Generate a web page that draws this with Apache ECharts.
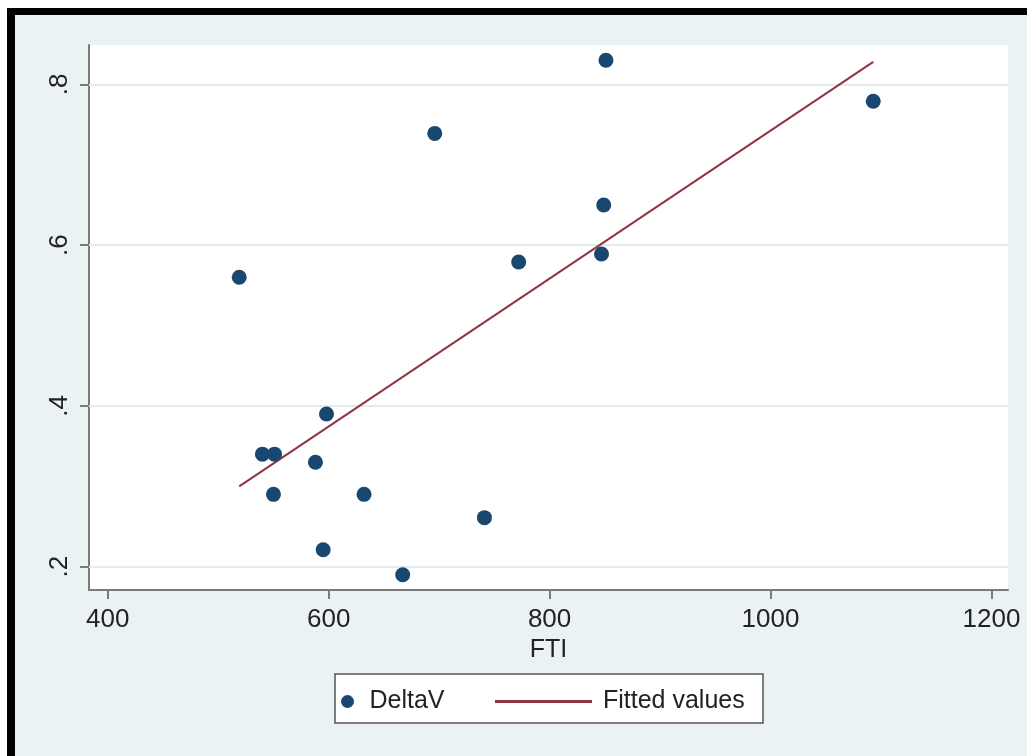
<!DOCTYPE html>
<html>
<head>
<meta charset="utf-8">
<title>DeltaV vs FTI</title>
<script src="https://cdn.jsdelivr.net/npm/echarts@6/dist/echarts.min.js"></script>
<style>
  html, body { margin: 0; padding: 0; background: #fff; }
  #frame {
    position: absolute; left: 7px; top: 8px; width: 1012px; height: 741px;
    border-left: 8px solid #000; border-top: 7px solid #000;
    background: #eaf2f3;
  }
  #chart { position: absolute; left: 0; top: 0; width: 1027px; height: 756px; }
</style>
</head>
<body>
<div id="frame"></div>
<div id="chart"></div>
<script>
// scatter points
const fti    = [851, 1093, 696, 849, 847, 772, 519, 598, 540, 551, 588, 550, 632, 741, 595, 667];
const deltaV = [0.830, 0.779, 0.739, 0.650, 0.589, 0.579, 0.560, 0.390, 0.340, 0.340, 0.330, 0.290, 0.290, 0.261, 0.221, 0.190];

// fitted line end points
const fitX = [519, 1093];
const fitY = [0.300, 0.828];

const xTicks = [400, 600, 800, 1000, 1200];
const yTicks = [0.2, 0.4, 0.6, 0.8];
const yTickLabels = ['.2', '.4', '.6', '.8'];

const font = 'Liberation Sans, Arial, sans-serif';
const textColor = '#222';
const axisColor = '#7a7a7a';

const chart = echarts.init(document.getElementById('chart'));

chart.setOption({
  backgroundColor: 'transparent',
  animation: false,
  textStyle: { fontFamily: font },
  grid: {
    left: 89, top: 45, right: 19, bottom: 166,
    show: true, backgroundColor: '#fff', borderWidth: 0
  },
  xAxis: {
    type: 'value', min: 383, max: 1215,
    name: 'FTI', nameLocation: 'middle', nameGap: 46,
    nameTextStyle: { fontSize: 25, color: textColor, fontFamily: font },
    axisLine: { show: true, onZero: false, lineStyle: { color: axisColor, width: 2 } },
    axisTick: { show: true, length: 9, customValues: xTicks, lineStyle: { color: axisColor, width: 2 } },
    axisLabel: {
      customValues: xTicks, fontSize: 26, color: textColor, margin: 17, fontFamily: font,
      formatter: v => String(v)
    },
    splitLine: { show: false }
  },
  yAxis: {
    type: 'value', min: 0.171, max: 0.849,
    axisLine: { show: true, onZero: false, lineStyle: { color: axisColor, width: 2 } },
    axisTick: { show: true, length: 9, customValues: yTicks, lineStyle: { color: axisColor, width: 2 } },
    axisLabel: {
      customValues: yTicks, rotate: 90, fontSize: 26, color: textColor, margin: 16, fontFamily: font,
      formatter: function (v) {
        const i = yTicks.findIndex(t => Math.abs(t - v) < 1e-6);
        return i >= 0 ? yTickLabels[i] : '';
      }
    },
    splitLine: { show: false }
  },
  graphic: [{
    type: 'rect', z: 0,
    shape: { x: 335, y: 674, width: 428, height: 49 },
    style: { fill: '#fff', stroke: '#555', lineWidth: 1.5 }
  }],
  legend: [{
    data: ['DeltaV'], left: 336, top: 684, z: 5,
    itemWidth: 34, itemHeight: 13,
    textStyle: { fontSize: 25, color: textColor, fontFamily: font }
  }, {
    data: [{ name: 'Fitted values', icon: 'rect' }], left: 490, top: 684, z: 5,
    itemWidth: 97, itemHeight: 3,
    textStyle: { fontSize: 25, color: textColor, fontFamily: font, padding: [0, 0, 0, 6] }
  }],
  series: [{
    name: 'Fitted values',
    type: 'line',
    data: fitX.map((x, i) => [x, fitY[i]]),
    showSymbol: false, symbol: 'none',
    lineStyle: { color: '#93343f', width: 2 },
    itemStyle: { color: '#93343f' },
    z: 3,
    markLine: {
      silent: true, symbol: 'none', label: { show: false },
      lineStyle: { color: '#e4ecee', width: 2, type: 'solid' },
      data: yTicks.map(v => ({ yAxis: v })),
      z: 1
    }
  }, {
    name: 'DeltaV',
    type: 'scatter',
    data: fti.map((x, i) => [x, deltaV[i]]),
    symbol: 'circle', symbolSize: 15,
    itemStyle: { color: '#1a476f', opacity: 1 },
    z: 4
  }]
});
</script>
</body>
</html>
